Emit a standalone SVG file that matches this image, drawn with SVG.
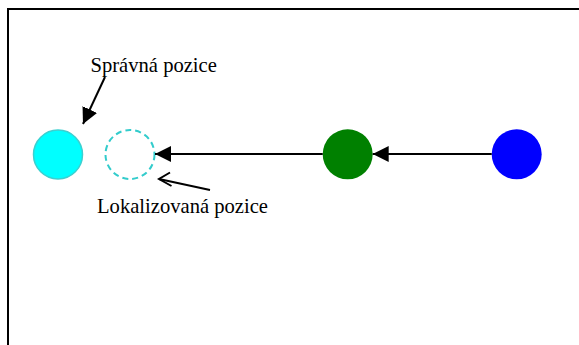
<svg xmlns="http://www.w3.org/2000/svg" width="579" height="345" viewBox="0 0 579 345">
<style>
.lbl{font-family:"Liberation Serif","Times New Roman",serif;font-size:20.6px;fill:#000}
.conn{stroke:#000;stroke-width:2;fill:none}
</style>
<defs>
<marker id="fh" markerUnits="userSpaceOnUse" markerWidth="18" markerHeight="16" refX="16" refY="8" orient="auto">
<path d="M0,0 L16,8 L0,16 Z" fill="#000"/>
</marker>
</defs>
<rect x="8" y="9" width="620" height="400" fill="#fff" stroke="#000" stroke-width="2"/>
<g id="correct">
<circle cx="58" cy="154.5" r="24.5" fill="#00ffff" stroke="#3cd0d0" stroke-width="1.5"/>
</g>
<g id="localized">
<circle cx="130" cy="154.5" r="24.5" fill="none" stroke="#33cccc" stroke-width="2" stroke-dasharray="6,4"/>
</g>
<g id="green">
<circle cx="347.7" cy="154.3" r="25" fill="#008000"/>
</g>
<g id="blue">
<circle cx="516.7" cy="154.3" r="25" fill="#0000ff"/>
</g>
<g id="connectors">
<line class="conn" x1="491.7" y1="154" x2="372.7" y2="154" marker-end="url(#fh)"/>
<line class="conn" x1="322.7" y1="154" x2="155" y2="154" marker-end="url(#fh)"/>
<line class="conn" x1="105" y1="77" x2="83" y2="124" marker-end="url(#fh)"/>
<line class="conn" x1="210" y1="190" x2="159" y2="179"/>
<polyline class="conn" points="170,172.5 159,179 171.5,186"/>
</g>
<text class="lbl" x="90.5" y="71.5">Správná pozice</text>
<text class="lbl" x="97" y="212.5">Lokalizovaná pozice</text>
</svg>
